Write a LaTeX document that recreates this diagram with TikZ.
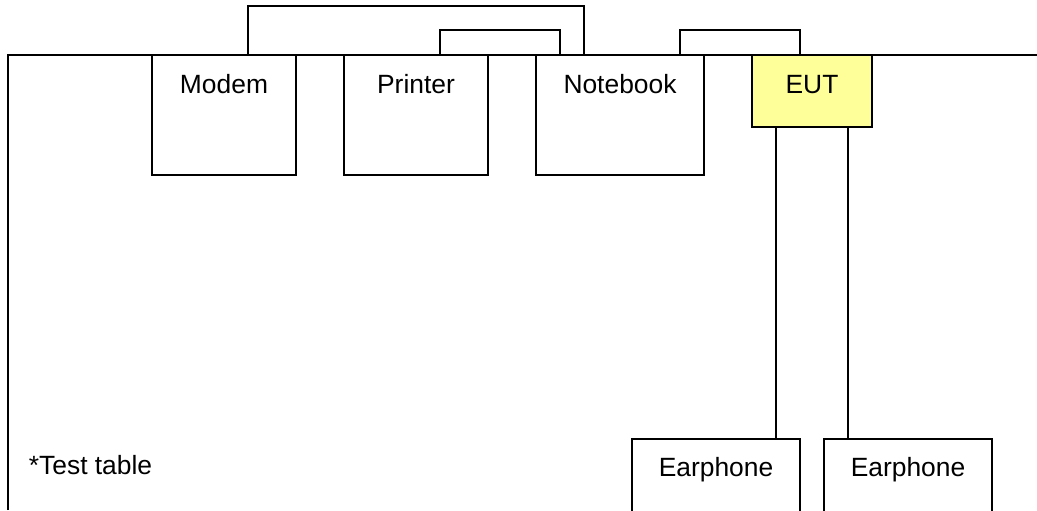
\documentclass[tikz,border=0pt]{standalone}
\usepackage{fontspec}
\setmainfont{Liberation Sans}
\usetikzlibrary{calc}
\definecolor{eutyellow}{RGB}{255,255,153}
\tikzset{
    unit/.style={draw, line width=0.9pt, minimum width=72pt, minimum height=60pt, inner sep=0pt},
    tag/.style={anchor=base, inner sep=0pt, font=\fontsize{13.2}{16}\selectfont}
}
\begin{document}
\begin{tikzpicture}[x=0.5pt, y=-0.5pt, line width=0.9pt]
        \clip (0,0) rectangle (1037,510);
        %table
        \coordinate (tl) at (8,55);
        \draw (8,510) -- (tl) -- (1037,55);
        %boxes on the table
        \node[unit] (modem) at (224,115) {};
        \node[unit] (printer) at (416,115) {};
        \node[unit, minimum width=84pt] (notebook) at (620,115) {};
        \node[unit, fill=eutyellow, minimum width=60pt, minimum height=36pt] (eut) at (812,91) {};
        \node[unit, minimum width=84pt, minimum height=72pt, anchor=north] (ear1) at (716,438) {};
        \node[unit, minimum width=84pt, minimum height=72pt, anchor=north] (ear2) at (908,438) {};
        \node[tag] (modemtxt) at (224,93) {Modem};
        \node[tag] (printertxt) at (416,93) {Printer};
        \node[tag] (notebooktxt) at (620,93) {Notebook};
        \node[tag] (euttxt) at (812,93) {EUT};
        \node[tag] (ear1txt) at (716,476) {Earphone};
        \node[tag] (ear2txt) at (908,476) {Earphone};
        \node[tag, anchor=base west] (note) at (28,474) {*Test table};
        %cables
        \draw ($(modem.north)+(24,0)$) -- ++(0,-48) -| ($(notebook.north)+(-36,0)$);
        \draw ($(printer.north)+(24,0)$) -- ++(0,-24) -| ($(notebook.north)+(-60,0)$);
        \draw ($(notebook.north)+(60,0)$) -- ++(0,-24) -| ($(eut.north)+(-12,0)$);
        \draw ($(eut.south)+(-36,0)$) -- ($(ear1.north)+(60,0)$);
        \draw ($(eut.south)+(36,0)$) -- ($(ear2.north)+(-60,0)$);
    \end{tikzpicture}
\end{document}
